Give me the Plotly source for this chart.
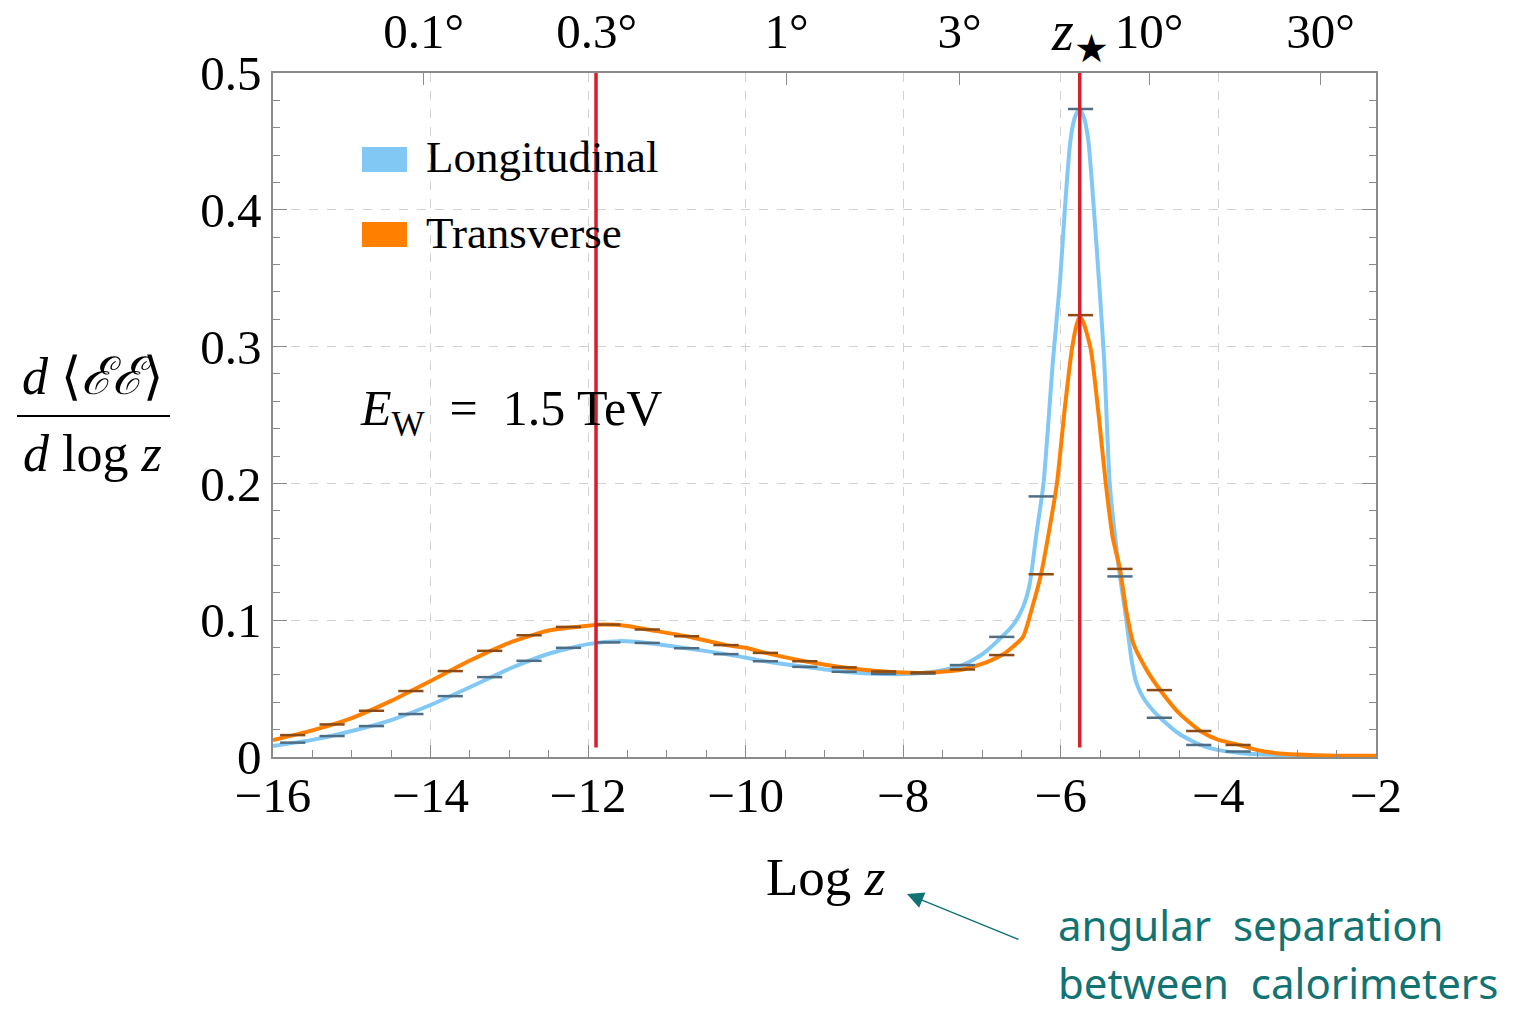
import numpy as np
import plotly.graph_objects as go

# ---------------- data ----------------
long_x = [-16, -15.5, -15, -14.5, -14, -13.5, -13, -12.5, -12, -11.6, -11.25, -10.75, -10.25,
          -9.75, -9.25, -8.75, -8.25, -8.0, -7.7, -7.5, -7.25, -7.0, -6.75, -6.6, -6.48, -6.4,
          -6.31, -6.22, -6.1, -6.01, -5.95, -5.88, -5.82, -5.76, -5.70, -5.65, -5.58, -5.51,
          -5.45, -5.38, -5.3, -5.25, -5.18, -5.1, -5.04, -4.95, -4.83, -4.74, -4.5, -4.23,
          -4.0, -3.73, -3.5, -3.25, -3.0, -2.5, -2.0]
long_y = [0.008, 0.0125, 0.019, 0.027, 0.038, 0.051, 0.0645, 0.0755, 0.0825, 0.0847, 0.0834,
          0.0795, 0.0752, 0.0700, 0.0659, 0.0623, 0.0606, 0.0606, 0.0618, 0.0635, 0.0672, 0.075,
          0.0878, 0.097, 0.1097, 0.125, 0.163, 0.2, 0.29, 0.348, 0.40, 0.45, 0.468, 0.4737,
          0.466, 0.45, 0.40, 0.343, 0.29, 0.2, 0.155, 0.132, 0.105, 0.07, 0.054, 0.043, 0.034,
          0.0287, 0.017, 0.0088, 0.005, 0.003, 0.002, 0.0015, 0.001, 0.0008, 0.0008]

trans_x = [-16, -15.5, -15, -14.5, -14, -13.5, -13, -12.5, -12, -11.8, -11.5, -11.25, -10.75,
           -10.25, -10.0, -9.75, -9.25, -8.75, -8.25, -8.0, -7.7, -7.25, -7.0, -6.75, -6.6,
           -6.48, -6.36, -6.25, -6.15, -6.05, -5.95, -5.86, -5.80, -5.76, -5.71, -5.62, -5.52,
           -5.43, -5.34, -5.25, -5.17, -5.08, -4.91, -4.74, -4.5, -4.23, -4.0, -3.73, -3.5,
           -3.29, -3.0, -2.5, -2.0]
trans_y = [0.0124, 0.0195, 0.0285, 0.041, 0.0555, 0.0705, 0.0835, 0.0925, 0.096, 0.0968,
           0.0958, 0.0932, 0.0883, 0.0818, 0.0798, 0.0761, 0.070, 0.0655, 0.0625, 0.0618,
           0.0615, 0.064, 0.068, 0.0745, 0.081, 0.0878, 0.11, 0.134, 0.165, 0.2, 0.255, 0.298,
           0.316, 0.322, 0.317, 0.298, 0.25, 0.2, 0.16, 0.1375, 0.107, 0.083, 0.0635, 0.049,
           0.032, 0.019, 0.0125, 0.0088, 0.005, 0.003, 0.0018, 0.001, 0.001]

bin_centers = [-15.75, -15.25, -14.75, -14.25, -13.75, -13.25, -12.75, -12.25, -11.75, -11.25,
               -10.75, -10.25, -9.75, -9.25, -8.75, -8.25, -7.75, -7.25, -6.75, -6.25, -5.75,
               -5.25, -4.75, -4.25, -3.75]
long_bins = [0.0105, 0.0153, 0.0226, 0.0314, 0.0445, 0.0584, 0.0703, 0.0798, 0.0838, 0.0834,
             0.0795, 0.0752, 0.0700, 0.0659, 0.0623, 0.0608, 0.0610, 0.0672, 0.0878, 0.1905,
             0.4737, 0.132, 0.0287, 0.0088, 0.004]
trans_bins = [0.016, 0.0238, 0.0338, 0.0482, 0.0628, 0.0776, 0.089, 0.0951, 0.0968, 0.0932,
              0.0883, 0.0818, 0.0761, 0.070, 0.0655, 0.0625, 0.0618, 0.064, 0.0745, 0.1336,
              0.323, 0.1375, 0.0489, 0.019, 0.0088]

ref_lines = [-11.9, -5.76]          # red vertical reference lines (log z)
zstar = -5.76

angle_labels_deg = [0.1, 0.3, 1, 3, 10, 30]
angle_ticktext = ["0.1°", "0.3°", "1°", "3°", "10°", "30°"]

x_range = [-16, -2]
y_range = [0, 0.5]

# ---------------- styling ----------------
BLUE = "#82c8f5"
ORANGE = "#ff8000"
BLUE_BAR = "#4f6e86"
ORANGE_BAR = "#8c4a14"
RED = "#d71f2a"
TEAL = "#127373"
SERIF = "Liberation Serif"
FRAME = "#8a8a8a"

W, H = 1523, 1011
L, R, T, B = 273, 1376, 73, 757     # plot area in window pixels


def xp(px):
    return (px - L) / (R - L)


def yp(py):
    return (B - py) / (B - T)


fig = go.Figure()

fig.add_trace(go.Scatter(x=long_x, y=long_y, mode="lines", line=dict(color=BLUE, width=4, shape="spline", smoothing=0.6),
                         hoverinfo="skip", showlegend=False))
fig.add_trace(go.Scatter(x=trans_x, y=trans_y, mode="lines", line=dict(color=ORANGE, width=4, shape="spline", smoothing=0.6),
                         hoverinfo="skip", showlegend=False))
fig.add_trace(go.Scatter(x=bin_centers, y=long_bins, mode="markers",
                         marker=dict(symbol="line-ew", size=18, line=dict(color=BLUE_BAR, width=2.5)),
                         hoverinfo="skip", showlegend=False))
fig.add_trace(go.Scatter(x=bin_centers, y=trans_bins, mode="markers",
                         marker=dict(symbol="line-ew", size=18, line=dict(color=ORANGE_BAR, width=2.5)),
                         hoverinfo="skip", showlegend=False))
# invisible trace to activate top axis
fig.add_trace(go.Scatter(x=x_range, y=[None, None], xaxis="x2", mode="lines",
                         hoverinfo="skip", showlegend=False))

top_tickvals = [float(np.log((1 - np.cos(np.radians(a))) / 2)) for a in angle_labels_deg]

tickfont = dict(family=SERIF, size=49, color="black")

fig.update_layout(
    width=W, height=H, autosize=False,
    margin=dict(l=L, r=W - R, t=T, b=H - B, pad=0, autoexpand=False),
    plot_bgcolor="white", paper_bgcolor="white",
    xaxis=dict(range=x_range, tick0=-16, dtick=2, ticks="inside", ticklen=12, tickwidth=1.2,
               tickcolor=FRAME, showline=True, linecolor=FRAME, linewidth=1.5, automargin=False,
               showgrid=True, gridcolor="#d2d2d2", griddash="dash", gridwidth=1,
               zeroline=False, tickfont=tickfont, ticklabelstandoff=-6,
               minor=dict(ticks="inside", dtick=0.5, ticklen=7, tickcolor=FRAME, showgrid=False)),
    xaxis2=dict(range=x_range, overlaying="x", side="top", tickmode="array",
                tickvals=top_tickvals, ticktext=angle_ticktext, ticks="inside", ticklen=12,
                tickcolor=FRAME, showline=True, linecolor=FRAME, linewidth=1.5, showgrid=False,
                automargin=False, zeroline=False, tickfont=tickfont, ticklabelstandoff=4),
    yaxis=dict(range=y_range, tick0=0, dtick=0.1, ticks="inside", ticklen=14, tickwidth=1.2,
               tickcolor=FRAME, showline=True, linecolor=FRAME, linewidth=1.5, mirror="ticks",
               showgrid=True, gridcolor="#d2d2d2", griddash="dash", gridwidth=1, automargin=False,
               zeroline=False, tickfont=tickfont, ticklabelstandoff=0,
               minor=dict(ticks="inside", dtick=0.02, ticklen=7, tickcolor=FRAME, showgrid=False)),
)

shapes = []
for xv in ref_lines:
    shapes.append(dict(type="line", xref="x", yref="y", x0=xv, x1=xv, y0=0.007, y1=y_range[1],
                       line=dict(color=RED, width=3.5), layer="above"))
# legend swatches
shapes.append(dict(type="rect", xref="paper", yref="paper", x0=xp(362), x1=xp(407), y0=yp(172), y1=yp(147),
                   fillcolor=BLUE, line=dict(width=0), layer="above"))
shapes.append(dict(type="rect", xref="paper", yref="paper", x0=xp(362), x1=xp(407), y0=yp(247), y1=yp(222),
                   fillcolor=ORANGE, line=dict(width=0), layer="above"))
# y-title fraction bar
shapes.append(dict(type="line", xref="paper", yref="paper", x0=xp(17), x1=xp(170), y0=yp(416), y1=yp(416),
                   line=dict(color="black", width=2)))
fig.update_layout(shapes=shapes)

ann = []
ann.append(dict(text="Longitudinal", xref="paper", yref="paper", x=xp(424), y=yp(157), xanchor="left",
                yanchor="middle", showarrow=False, font=dict(family=SERIF, size=45, color="black")))
ann.append(dict(text="Transverse", xref="paper", yref="paper", x=xp(424), y=yp(233), xanchor="left",
                yanchor="middle", showarrow=False, font=dict(family=SERIF, size=45, color="black")))
ann.append(dict(text="<i>E</i><sub>W</sub>  =  1.5 TeV", xref="paper", yref="paper", x=xp(358), y=yp(412),
                xanchor="left", yanchor="middle", showarrow=False, font=dict(family=SERIF, size=50, color="black")))
ann.append(dict(text="<i>z</i><sub>★</sub>", xref="x", yref="paper", x=zstar, y=yp(35), xanchor="center",
                yanchor="middle", showarrow=False, font=dict(family=SERIF, size=56, color="black")))
ann.append(dict(text="Log <i>z</i>", xref="paper", yref="paper", x=xp(825), y=yp(877), xanchor="center",
                yanchor="middle", showarrow=False, font=dict(family=SERIF, size=53, color="black")))
ann.append(dict(text="<i>d</i> ⟨<i>ℰℰ</i>⟩", xref="paper", yref="paper", x=xp(92), y=yp(376), xanchor="center",
                yanchor="middle", showarrow=False, font=dict(family=SERIF, size=52, color="black")))
ann.append(dict(text="<i>d</i> log <i>z</i>", xref="paper", yref="paper", x=xp(93), y=yp(453), xanchor="center",
                yanchor="middle", showarrow=False, font=dict(family=SERIF, size=52, color="black")))
# arrow
ann.append(dict(text="", xref="paper", yref="paper", x=xp(907), y=yp(894), ax=1020 - 907, ay=940 - 894,
                axref="pixel", ayref="pixel", showarrow=True, arrowhead=2, arrowsize=2.2, arrowwidth=1.5,
                arrowcolor=TEAL))
ann.append(dict(text="angular  separation", xref="paper", yref="paper", x=xp(1056), y=yp(925), xanchor="left",
                yanchor="middle", showarrow=False, font=dict(family="Noto Sans", size=42, color=TEAL)))
ann.append(dict(text="between  calorimeters", xref="paper", yref="paper", x=xp(1056), y=yp(982), xanchor="left",
                yanchor="middle", showarrow=False, font=dict(family="Noto Sans", size=42, color=TEAL)))
fig.update_layout(annotations=ann)

fig.write_html("out.html", config={"displayModeBar": False},
               post_script="document.body.style.margin='0';document.body.style.overflow='hidden';")
